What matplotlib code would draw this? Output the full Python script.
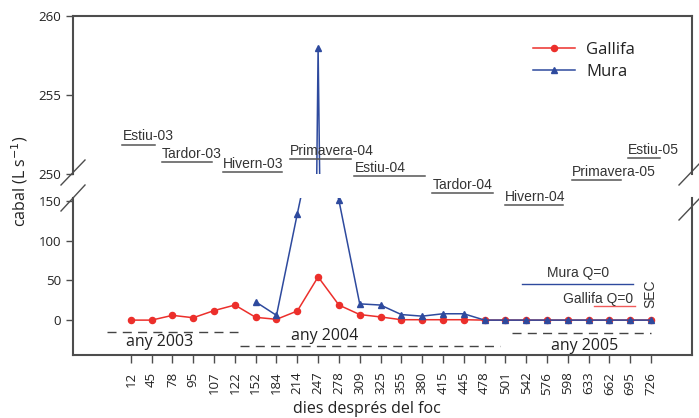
import numpy as np
import matplotlib
matplotlib.use("Agg")
import matplotlib.pyplot as plt
from matplotlib.lines import Line2D

# ---------------- data ----------------
dies = ["12", "45", "78", "95", "107", "122", "152", "184", "214", "247", "278", "309", "325",
        "355", "380", "415", "445", "478", "501", "542", "576", "598", "633", "662", "695", "726"]
gallifa = [0, 0, 6, 3, 12, 19, 3.5, 1, 11.5, 54.5, 19, 7, 4,
           0.5, 0.5, 0.5, 0.5, 0, 0, 0, 0, 0, 0, 0, 0, 0]
mura = [np.nan, np.nan, np.nan, np.nan, np.nan, np.nan, 23, 6, 134, 258, 151, 20.5, 19,
        7, 5, 8, 8, 0, 0, 0, 0, 0, 0, 0, 0, 0]
estacions = ["Estiu-03", "Tardor-03", "Hivern-03", "Primavera-04", "Estiu-04",
             "Tardor-04", "Hivern-04", "Primavera-05", "Estiu-05"]
anys = ["any 2003", "any 2004", "any 2005"]

W, H = 699, 418
fig = plt.figure(figsize=(W / 100, H / 100), dpi=100)

def fx(x):
    return x / W

def fy(y):
    return (H - y) / H

RED = "#ec2f2b"
BLUE = "#2e4a9e"
SPINE = "#4d4d4d"
TXT = "#222222"
SANS = ["Open Sans", "DejaVu Sans"]
ARIAL = ["Liberation Sans", "DejaVu Sans"]

x = np.arange(len(dies))
L, R = 73, 692
ax_top = fig.add_axes([fx(L), fy(174), fx(R - L), (174 - 16) / H])
ax_bot = fig.add_axes([fx(L), fy(355), fx(R - L), (355 - 198) / H])

for ax in (ax_top, ax_bot):
    ax.plot(x, gallifa, color=RED, marker="o", markersize=4.4, lw=1.1, label="Gallifa", zorder=3)
    ax.plot(x, mura, color=BLUE, marker="^", markersize=4.4, lw=1.1, label="Mura", zorder=4)
    ax.set_xlim(-2.78, 26.97)
    for s in ax.spines.values():
        s.set_color(SPINE)
        s.set_linewidth(1.5)
    ax.tick_params(direction="out", length=5, width=1, color=SPINE, labelsize=9.5, labelcolor=TXT)

ax_top.set_ylim(250, 260)
ax_top.set_yticks([250, 255, 260])
ax_top.spines["bottom"].set_visible(False)
ax_top.set_xticks([])

ax_bot.set_ylim(-44, 154)
ax_bot.set_yticks([0, 50, 100, 150])
ax_bot.spines["top"].set_visible(False)
ax_bot.set_xticks(x)
ax_bot.set_xticklabels(dies, rotation=90)
ax_bot.tick_params(axis="x", length=6, pad=6)
for ax in (ax_top, ax_bot):
    for lab in ax.get_yticklabels() + ax.get_xticklabels():
        lab.set_family(SANS)
        lab.set_fontsize(9.5)

# legend
leg = ax_top.legend(loc="upper left", bbox_to_anchor=(fx(533), fy(42)), bbox_transform=fig.transFigure,
                    frameon=False, borderpad=0, borderaxespad=0, handlelength=2.5, handletextpad=0.7,
                    labelspacing=0.38, prop={"family": SANS, "size": 12})
for t in leg.get_texts():
    t.set_color(TXT)

# axis labels
fig.text(fx(20), fy(181), "cabal (L s$^{-1}$)", rotation=90, ha="center", va="center",
         fontsize=11.5, family=SANS, color=TXT)
fig.text(fx(367), fy(409), "dies després del foc", ha="center", va="center",
         fontsize=11.5, family=SANS, color=TXT)

# break marks
for (x0, y0, x1, y1) in [(61, 185, 85, 160), (61, 211, 85, 185), (679, 185, 700, 163), (679, 220, 700, 198)]:
    fig.add_artist(Line2D([fx(x0), fx(x1)], [fy(y0), fy(y1)], color=SPINE, lw=1))

# season labels with underlines
season_pos = [  # text left, baseline, underline x0, x1, underline y
    (123, 140, 122, 155, 145),
    (162, 157.5, 162, 212, 162),
    (223, 168, 223, 282, 172.3),
    (290, 155, 290, 351, 158.5),
    (355, 171.5, 354, 425, 176),
    (433, 189, 432, 493, 193),
    (505, 201, 505, 563, 205),
    (572, 176, 572, 621, 180),
    (628, 154.5, 628, 660, 158),
]
for name, (tx, ty, ux0, ux1, uy) in zip(estacions, season_pos):
    fig.text(fx(tx), fy(ty), name, ha="left", va="baseline", fontsize=10, family=ARIAL, color="#333333")
    fig.add_artist(Line2D([fx(ux0), fx(ux1)], [fy(uy), fy(uy)], color="#555555", lw=1.1))

# Q=0 notes
fig.text(fx(547), fy(277), "Mura Q=0", ha="left", va="baseline", fontsize=10, family=ARIAL, color="#333333")
fig.add_artist(Line2D([fx(522), fx(633)], [fy(284), fy(284)], color=BLUE, lw=1))
fig.text(fx(563), fy(302.5), "Gallifa Q=0", ha="left", va="baseline", fontsize=10, family=ARIAL, color="#333333")
fig.add_artist(Line2D([fx(594), fx(635)], [fy(305.7), fy(305.7)], color="#f05a5a", lw=1))
fig.text(fx(650), fy(294), "SEC", rotation=90, ha="center", va="center", fontsize=10, family=ARIAL, color="#333333")

# year labels and dashed lines
year_pos = [  # text center x, baseline, line x0, x1, y
    (160, 346.5, 107, 238, 331.7),
    (325, 340.5, 240, 500, 345.7),
    (585, 350, 512, 651, 333),
]
for name, (tx, ty, lx0, lx1, ly) in zip(anys, year_pos):
    fig.text(fx(tx), fy(ty), name, ha="center", va="baseline", fontsize=11.5, family=SANS, color=TXT)
    fig.add_artist(Line2D([fx(lx0), fx(lx1)], [fy(ly), fy(ly)], color="#444444", lw=1,
                          linestyle=(0, (6.5, 4.5))))

fig.savefig("out.png", dpi=100)
